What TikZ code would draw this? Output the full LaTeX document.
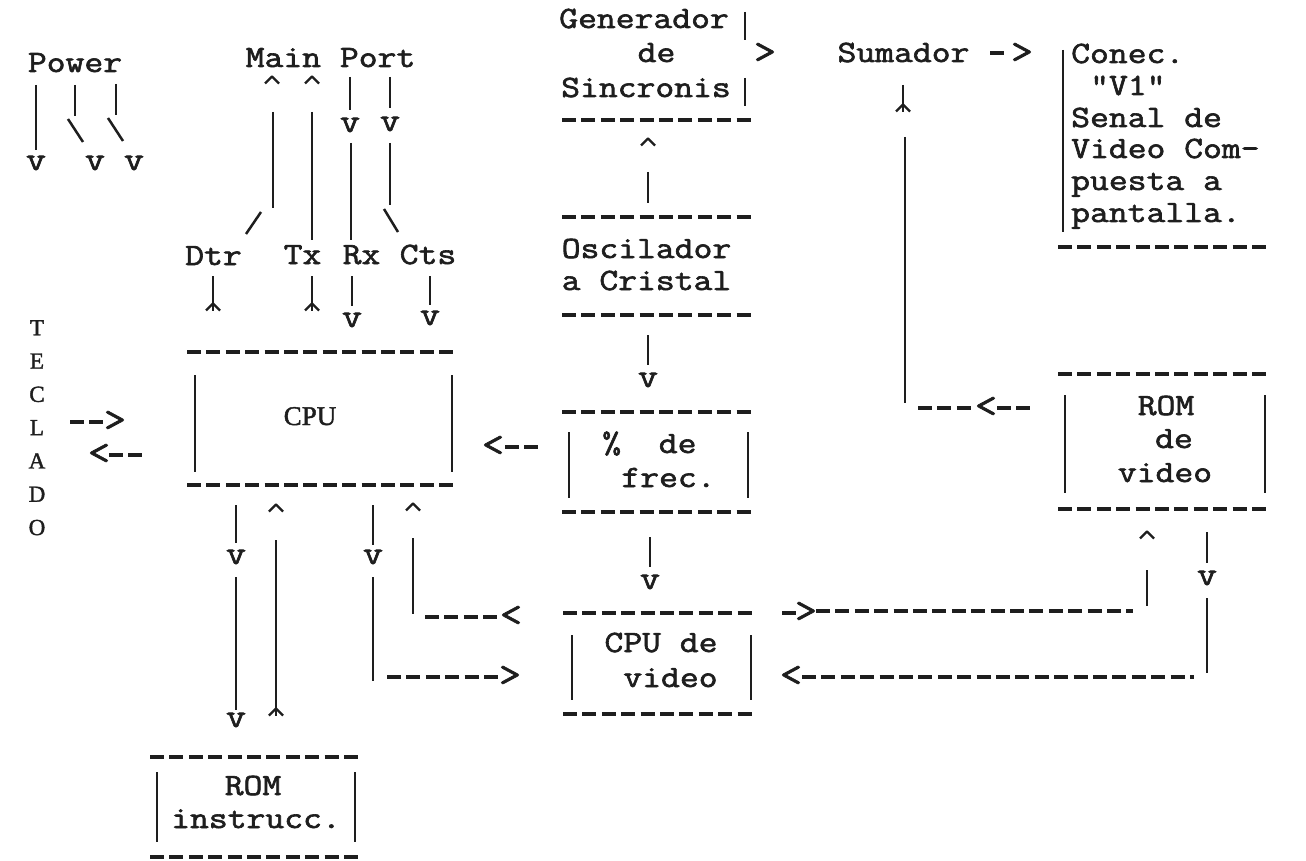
\documentclass[tikz,border=0pt]{standalone}
\usepackage{fontspec}
\setmonofont[FakeStretch=1.18,FakeBold=2]{Latin Modern Mono}
\newfontfamily\rmf[FakeBold=1.6]{Liberation Serif}
\definecolor{ink}{HTML}{1E1E1E}
\begin{document}
\begin{tikzpicture}[x=1pt,y=-1pt,
  tw/.style={font=\ttfamily\fontsize{31}{33}\selectfont, inner sep=0pt, text=ink, anchor=base},
  twl/.style={tw, anchor=base west},
  hd/.style={font=\ttfamily\fontsize{33}{33}\selectfont, inner sep=0pt, text=ink, anchor=center},
  ah/.style={font=\ttfamily\fontsize{36}{36}\selectfont, inner sep=0pt, text=ink, anchor=center},
  rmfs/.style={font=\rmf\fontsize{23}{33.3}\selectfont, inner sep=0pt, text=ink},
  bar/.style={draw=ink, line width=2.5pt},
  dsh/.style={draw=ink, line width=3.1pt, dash pattern=on 14pt off 5.4pt},
  caret/.style={draw=ink, line width=2.4pt, line join=round},
  crt/.pic={\draw[caret] (-7,3.5) -- (0,-3.5) -- (7,3.5);}
]
\fill[white] (0,0) rectangle (1306,861);
\useasboundingbox (0,0) rectangle (1306,861);

% ---------------- texts ----------------
\node[tw] (power) at (75,72) {Power};
\node[tw] (mainport) at (330.5,67) {Main Port};
\node[tw] (dtr) at (213.5,265) {Dtr};
\node[tw] (tx) at (302.5,264) {Tx};
\node[tw] (rx) at (361.5,264) {Rx};
\node[tw] (cts) at (428,264) {Cts};
\node[tw] (gen1) at (644,28) {Generador};
\node[tw] (gen2) at (656.5,62) {de};
\node[tw] (gen3) at (646,97) {Sincronis};
\node[tw] (osc1) at (646.5,258) {Oscilador};
\node[tw] (osc2) at (646.5,290) {a Cristal};
\node[tw] (frq1) at (649.4,453) {\%~~de};
\node[tw] (frq2) at (668.5,487) {frec.};
\node[tw] (cv1) at (661,652) {CPU de};
\node[tw] (cv2) at (670.5,687) {video};
\node[tw] (rv1) at (1166,415) {ROM};
\node[tw] (rv2) at (1174,448) {de};
\node[tw] (rv3) at (1165,482) {video};
\node[tw] (ri1) at (253,795) {ROM};
\node[tw] (ri2) at (256,828) {instrucc.};
\node[tw] (sum) at (903.5,62) {Sumador};
\node[twl] (cn1) at (1071,63) {Conec.};
\node[twl] (cn2) at (1090,95) {"V1"};
\node[twl] (cn3) at (1071,127) {Senal de};
\node[twl] (cn4) at (1071,158) {Video Com-};
\node[twl] (cn5) at (1071,190) {puesta a};
\node[twl] (cn6) at (1071,222) {pantalla.};
\node[rmfs, align=center, anchor=north] (teclado) at (37,320) {T\\E\\C\\L\\A\\D\\O};
\node[font=\rmf\fontsize{27}{30}\selectfont, inner sep=0pt, text=ink, anchor=base] (cpu) at (310,425) {CPU};

% ---------------- heads ----------------
\node[hd] (pv1) at (36,163) {v};
\node[hd] (pv2) at (95,163) {v};
\node[hd] (pv3) at (134,163) {v};
\node[hd] (rxv1) at (350,125) {v};
\node[hd] (ctv1) at (390,124) {v};
\node[hd] (rxv2) at (352,320) {v};
\node[hd] (ctv2) at (430,318) {v};
\node[hd] (oscv) at (648,380) {v};
\node[hd] (frqv) at (650,582) {v};
\node[hd] (cpv1) at (236,557) {v};
\node[hd] (cpv2) at (373,557) {v};
\node[hd] (romv) at (236,720) {v};
\node[hd] (rvv) at (1207,578) {v};
\node[ah] (genr) at (765,53) {>};
\node[ah] (sumr) at (1022,53) {>};
\node[ah] (k1) at (115,421) {>};
\node[ah] (k2) at (99,454) {<};
\node[ah] (fq) at (493,446) {<};
\node[ah] (rvl) at (986,407) {<};
\node[ah] (cvl1) at (511,616) {<};
\node[ah] (cvl2) at (510,676) {>};
\node[ah] (cvr1) at (806,612) {>};
\node[ah] (cvr2) at (791,676) {<};

\pic at (272,80) {crt};
\pic at (312,80) {crt};
\pic at (648,142) {crt};
\pic at (276,508) {crt};
\pic at (413,507) {crt};
\pic at (1147,535) {crt};

% ---------------- Power ----------------
\draw[bar] (36,85) -- (36,150);
\draw[bar] (75,85) -- (75,116);
\draw[bar] (68,119) -- (83,142);
\draw[bar] (116,84) -- (116,115);
\draw[bar] (108,118) -- (123,141);

% ---------------- Main Port ----------------
\draw[bar] (273,112) -- (273,208);
\draw[bar] (261,212) -- (246,234);
\draw[bar] (312,112) -- (312,240);
\draw[bar] (350,77) -- (350,110);
\draw[bar] (351,143) -- (351,240);
\draw[bar] (390,77) -- (390,108);
\draw[bar] (390,143) -- (390,205);
\draw[bar] (384,209) -- (398,232);

\draw[bar] (213,276) -- (213,311); \pic at (213,307) {crt};
\draw[bar] (312,276) -- (312,311); \pic at (312,307) {crt};
\draw[bar] (352,276) -- (352,306);
\draw[bar] (430,276) -- (430,305);

% ---------------- CPU box ----------------
\draw[dsh] (187,352) -- (456,352);
\draw[dsh] (187,485) -- (456,485);
\draw[bar] (195,375) -- (195,472);
\draw[bar] (452,375) -- (452,472);

% keyboard arrows
\draw[dsh] (70,422) -- (104,422);
\draw[dsh] (109,455) -- (143,455);

% ---------------- Generador / Oscilador / frec ----------------
\draw[bar] (745,12) -- (745,40);
\draw[bar] (745,78) -- (745,106);
\draw[dsh] (562,120) -- (753,120);
\draw[bar] (648,172) -- (648,203);
\draw[dsh] (562,217) -- (753,217);
\draw[dsh] (562,315) -- (753,315);
\draw[bar] (648,335) -- (648,365);
\draw[dsh] (562,412) -- (753,412);
\draw[dsh] (562,512) -- (753,512);
\draw[bar] (569,432) -- (569,498);
\draw[bar] (748,432) -- (748,498);
\draw[dsh] (505,447) -- (539,447);
\draw[bar] (650,537) -- (650,567);

% ---------------- CPU de video ----------------
\draw[dsh] (563,613) -- (753,613);
\draw[dsh] (563,714) -- (753,714);
\draw[bar] (572,635) -- (572,700);
\draw[bar] (751,635) -- (751,700);

% ---------------- Sumador / Conec ----------------
\draw[dsh] (990,53) -- (1004,53);
\draw[bar] (903,85) -- (903,112); \pic at (903,108) {crt};
\draw[bar] (905,137) -- (905,403);
\draw[bar] (1063,50) -- (1063,232);
\draw[dsh] (1058,247) -- (1268,247);

% ---------------- ROM de video ----------------
\draw[dsh] (1058,374) -- (1270,374);
\draw[dsh] (1058,509) -- (1270,509);
\draw[bar] (1065,395) -- (1065,493);
\draw[bar] (1265,395) -- (1265,493);
\draw[dsh] (918,408) -- (972,408);
\draw[dsh] (997,408) -- (1031,408);

\draw[bar] (1147,570) -- (1147,606);
\draw[bar] (1207,532) -- (1207,563);
\draw[bar] (1207,598) -- (1207,673);

% ---------------- below CPU ----------------
\draw[bar] (236,505) -- (236,543);
\draw[bar] (236,577) -- (236,710);
\draw[bar] (276,540) -- (276,716); \pic at (276,712) {crt};
\draw[bar] (373,505) -- (373,545);
\draw[bar] (373,577) -- (373,681);
\draw[bar] (413,538) -- (413,614);
\draw[dsh] (425,617) -- (499,617);
\draw[dsh] (387,677) -- (499,677);

% connectors to video side
\draw[dsh] (782,613) -- (796,613);
\draw[dsh] (816,611) -- (1133,611);
\draw[dsh] (802,677) -- (1194,677);

% ---------------- ROM instrucc. ----------------
\draw[dsh] (150,757) -- (360,757);
\draw[dsh] (150,857) -- (360,857);
\draw[bar] (157,772) -- (157,842);
\draw[bar] (355,772) -- (355,842);
\end{tikzpicture}
\end{document}
